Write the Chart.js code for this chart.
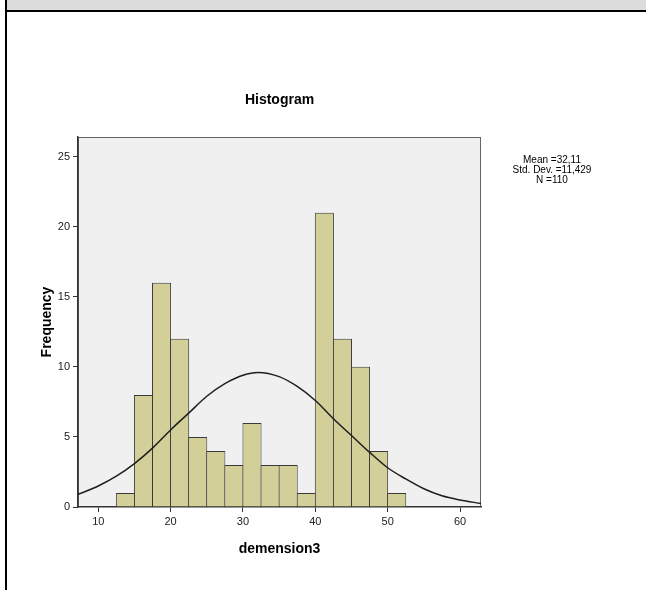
<!DOCTYPE html>
<html>
<head>
<meta charset="utf-8">
<script src="https://cdn.jsdelivr.net/npm/chart.js@4"></script>
<style>
  html, body { margin: 0; padding: 0; background: #fff; }
  #wrap { position: relative; width: 646px; height: 590px; overflow: hidden; }
  #c { position: absolute; left: 0; top: 0; }
  .band { position: absolute; left: 7px; top: 0; width: 639px; height: 10px; background: #dcdcdc; }
  .hline { position: absolute; left: 5px; top: 10px; width: 641px; height: 2px; background: #000; }
  .vline { position: absolute; left: 5px; top: 0; width: 2px; height: 590px; background: #000; }
  #stats { position: absolute; left: 492px; top: 155px; width: 120px; text-align: center;
           font: 10px "Liberation Sans", Arial, sans-serif; line-height: 10px; color: #000; }
</style>
</head>
<body>
<div id="wrap">
  <canvas id="c" width="646" height="590"></canvas>
  <div class="band"></div>
  <div class="hline"></div>
  <div class="vline"></div>
  <div id="stats">Mean =32,11<br>Std. Dev. =11,429<br>N =110</div>
</div>
<script>
// ---- data ----
const binCenters = [13.75, 16.25, 18.75, 21.25, 23.75, 26.25, 28.75, 31.25, 33.75, 36.25, 38.75, 41.25, 43.75, 46.25, 48.75, 51.25];
const frequencies = [1, 8, 16, 12, 5, 4, 3, 6, 3, 3, 1, 21, 12, 10, 4, 1];
const curveX = [7.2, 10, 12.5, 15, 17.5, 20, 22.5, 25, 27.5, 30, 32.1, 35, 37.5, 40, 42.5, 45, 47.5, 50, 52.5, 55, 57.5, 60, 62.9];
const curveY = [0.9, 1.5, 2.2, 3.1, 4.2, 5.5, 6.7, 7.9, 8.8, 9.4, 9.6, 9.3, 8.6, 7.6, 6.3, 5.1, 3.9, 2.8, 2.0, 1.3, 0.8, 0.5, 0.25];
const xTicks = [10, 20, 30, 40, 50, 60];
const yTicks = [0, 5, 10, 15, 20, 25];
const xRange = [7.2, 62.9];
const yRange = [0, 26.4];

const FONT = '"Liberation Sans", Arial, sans-serif';

const plotBg = {
  id: 'plotBg',
  beforeDraw(chart) {
    const { ctx, chartArea: a } = chart;
    ctx.save();
    ctx.fillStyle = '#ffffff';
    ctx.fillRect(0, 0, chart.width, chart.height);
    ctx.fillStyle = '#f0f0f0';
    ctx.fillRect(a.left, a.top, a.right - a.left, a.bottom - a.top);
    ctx.strokeStyle = '#666';
    ctx.lineWidth = 1;
    ctx.strokeRect(a.left + 0.5, a.top + 0.5, a.right - a.left - 1, a.bottom - a.top - 1);
    ctx.restore();
  }
};

new Chart(document.getElementById('c'), {
  type: 'bar',
  data: {
    datasets: [
      {
        type: 'line',
        order: 0,
        data: curveX.map((x, i) => ({ x: x, y: curveY[i] })),
        borderColor: '#1e1e1e',
        borderWidth: 1.5,
        pointRadius: 0,
        fill: false,
        cubicInterpolationMode: 'monotone'
      },
      {
        type: 'bar',
        order: 1,
        data: binCenters.map((x, i) => ({ x: x, y: frequencies[i] })),
        backgroundColor: '#d3cf98',
        borderColor: '#3a3a3a',
        borderWidth: 1,
        borderSkipped: 'start',
        barPercentage: 1.055,
        categoryPercentage: 1
      }
    ]
  },
  options: {
    responsive: false,
    animation: false,
    events: [],
    layout: { padding: { top: 91.6, left: 0, right: 165, bottom: 0 } },
    plugins: {
      legend: { display: false },
      tooltip: { enabled: false },
      title: {
        display: true,
        fullSize: false,
        text: 'Histogram',
        color: '#000',
        font: { family: FONT, size: 14, weight: 'bold' },
        padding: { top: 0, bottom: 28.6 }
      }
    },
    scales: {
      x: {
        type: 'linear',
        min: xRange[0],
        max: xRange[1],
        offset: false,
        afterBuildTicks(scale) { scale.ticks = xTicks.map(v => ({ value: v })); },
        afterFit(scale) { scale.height = 83; },
        grid: { drawOnChartArea: false, drawTicks: true, tickLength: 5, tickColor: '#333', offset: false },
        border: { display: true, color: '#333', width: 1.5 },
        ticks: { autoSkip: false, maxRotation: 0, padding: 3, color: '#222', font: { family: FONT, size: 11 } },
        title: {
          display: true,
          text: 'demension3',
          color: '#000',
          font: { family: FONT, size: 14, weight: 'bold' },
          padding: { top: 0, bottom: 32.6 }
        }
      },
      y: {
        type: 'linear',
        min: yRange[0],
        max: yRange[1],
        afterBuildTicks(scale) { scale.ticks = yTicks.map(v => ({ value: v })); },
        afterFit(scale) { scale.width = 78; },
        grid: { drawOnChartArea: false, drawTicks: true, tickLength: 5, tickColor: '#333' },
        border: { display: true, color: '#333', width: 1.5 },
        ticks: { autoSkip: false, padding: 3, color: '#222', font: { family: FONT, size: 11 } },
        title: {
          display: true,
          text: 'Frequency',
          color: '#000',
          font: { family: FONT, size: 14, weight: 'bold' },
          padding: { top: 38.6, bottom: 0 }
        }
      }
    }
  },
  plugins: [plotBg]
});
</script>
</body>
</html>
